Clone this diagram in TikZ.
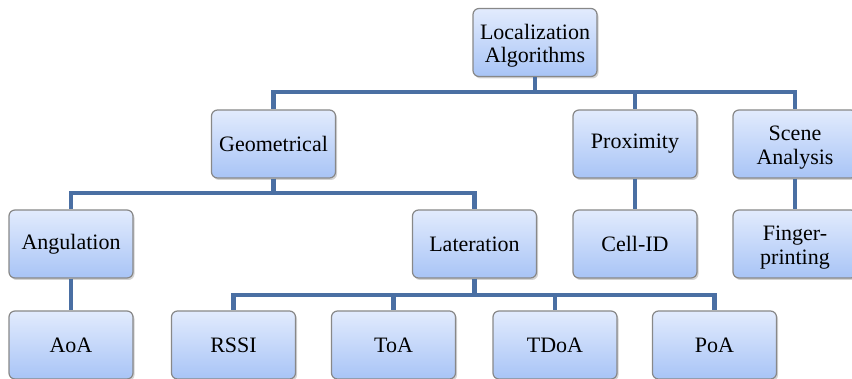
\documentclass[tikz,border=0pt]{standalone}
\usepackage{fontspec}
\setmainfont{Liberation Serif}
\usetikzlibrary{shadows}
\definecolor{boxtop}{HTML}{E2EBFD}
\definecolor{boxbot}{HTML}{A8C4F6}
\definecolor{boxline}{HTML}{888888}
\definecolor{link}{HTML}{4A6FA3}
\newcommand\twolines[2]{\raisebox{-4pt}[\height][\depth]{\begin{tabular}{@{}c@{}}#1\\#2\end{tabular}}}
\tikzset{
  tbox/.style={draw=boxline, line width=1.2pt, rounded corners=6pt,
    top color=boxtop, bottom color=boxbot,
    minimum width=124pt, minimum height=68pt, inner sep=2pt,
    align=center, font=\fontsize{22}{23.5}\selectfont,
    drop shadow={opacity=0.35, shadow xshift=1.5pt, shadow yshift=-2pt}},
  link/.style={draw=link, line width=4.5pt, line join=miter}
}
\begin{document}
\begin{tikzpicture}[x=1pt,y=-1pt]
\useasboundingbox (0,0) rectangle (852,379);
\coordinate (b1) at (0,92);
\coordinate (b2) at (0,193);
\coordinate (b3) at (0,295);
\path (535,42.5) node[tbox] (root) {\twolines{Localization}{Algorithms}};
\path (273.5,144) node[tbox] (geo) {Geometrical};
\path (635,144) node[tbox] (prox) {Proximity};
\path (795,144) node[tbox] (scene) {\twolines{Scene}{Analysis}};
\path (71,244) node[tbox] (ang) {Angulation};
\path (474.5,244) node[tbox] (lat) {Lateration};
\path (635,244) node[tbox] (cell) {Cell-ID};
\path (795,244) node[tbox] (fing) {\twolines{Finger-}{printing}};
\path (71,345) node[tbox] (aoa) {AoA};
\path (233.5,345) node[tbox] (rssi) {RSSI};
\path (393.5,345) node[tbox] (toa) {ToA};
\path (555,345) node[tbox] (tdoa) {TDoA};
\path (714.5,345) node[tbox] (poa) {PoA};
% links
\draw[link] (root.south) -- (root.south |- b1) -| (geo.north);
\draw[link] (root.south |- b1) -| (prox.north);
\draw[link] (root.south |- b1) -| (scene.north);
\draw[link] (geo.south) -- (geo.south |- b2) -| (ang.north);
\draw[link] (geo.south |- b2) -| (lat.north);
\draw[link] (prox.south) -- (cell.north);
\draw[link] (scene.south) -- (fing.north);
\draw[link] (ang.south) -- (aoa.north);
\draw[link] (lat.south) -- (lat.south |- b3) -| (rssi.north);
\draw[link] (lat.south |- b3) -| (toa.north);
\draw[link] (lat.south |- b3) -| (tdoa.north);
\draw[link] (lat.south |- b3) -| (poa.north);
\end{tikzpicture}
\end{document}
